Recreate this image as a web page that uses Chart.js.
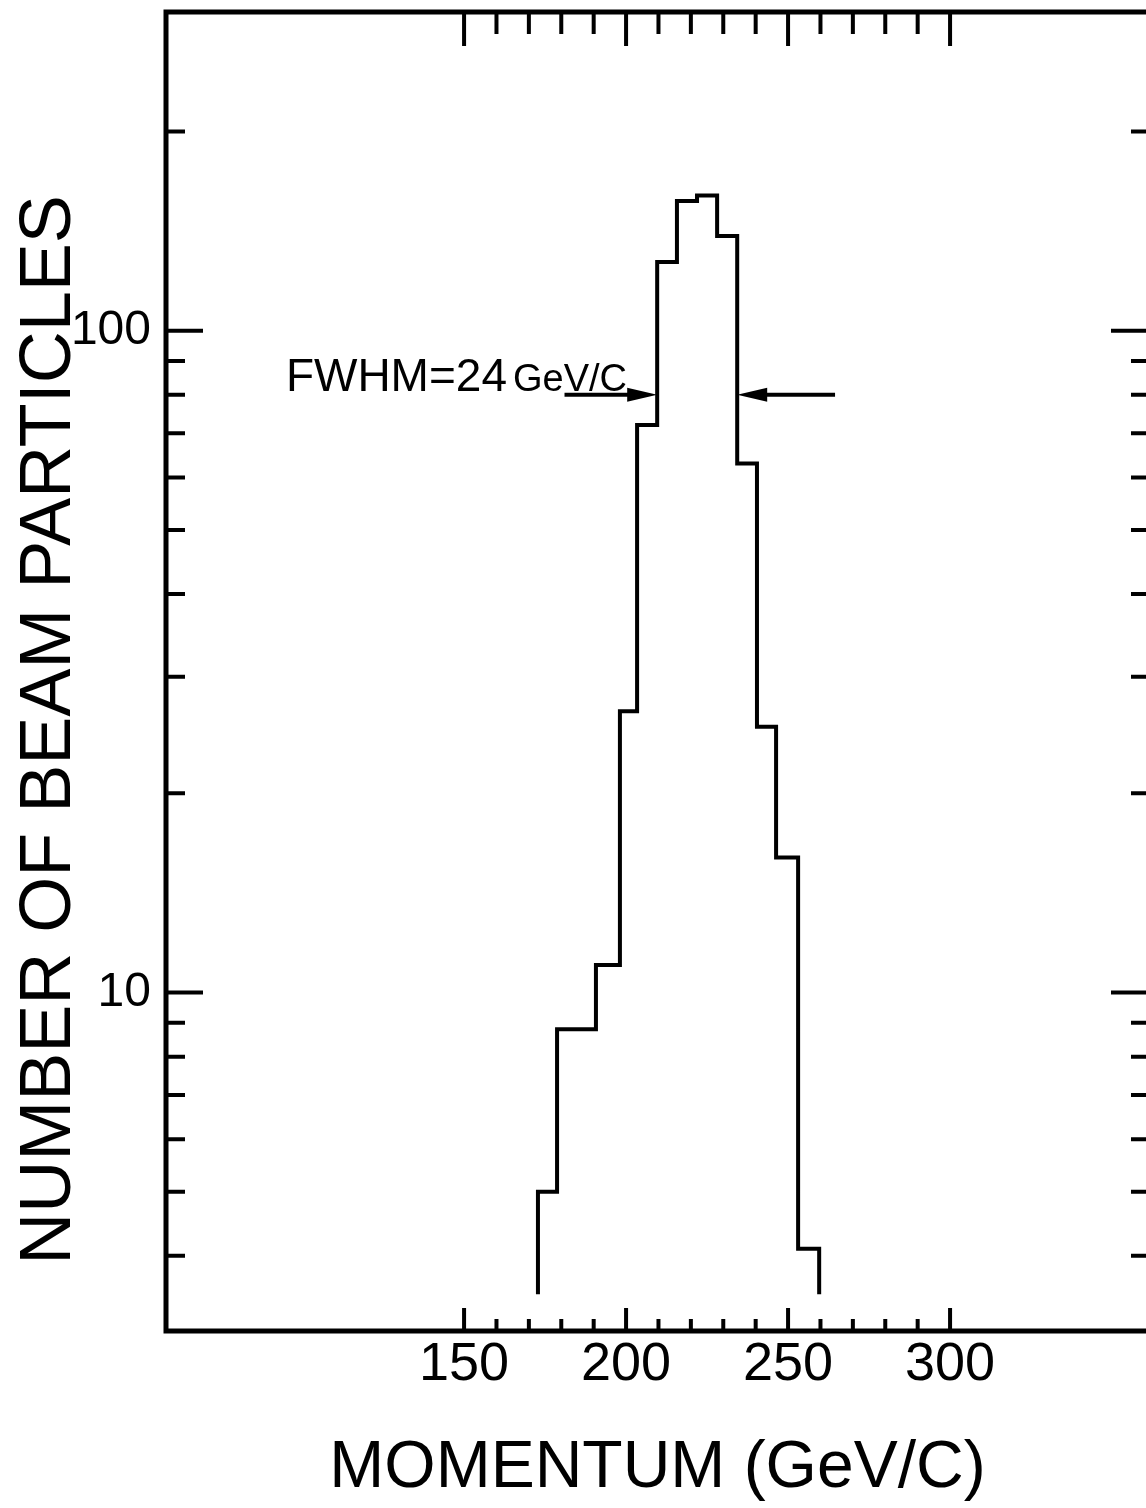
<!DOCTYPE html>
<html><head><meta charset="utf-8">
<script src="https://cdn.jsdelivr.net/npm/chart.js@4/dist/chart.umd.min.js"></script>
<style>
html,body{margin:0;padding:0;background:#fff;overflow:hidden;width:1146px;height:1508px}
#wrap{position:absolute;left:0;top:0;width:1160px;height:1508px}
</style></head><body><div id="wrap"><canvas id="c" width="1160" height="1508"></canvas></div>
<script>
// ---- data ----
const binEdges = [172.8, 178.7, 184.6, 190.7, 198.1, 203.4, 209.6, 215.7, 221.9, 228.1, 234.3, 240.4, 246.3, 253.1, 259.6];
const counts   = [5.0, 8.8, 8.8, 11.0, 26.6, 72, 127, 157, 160, 139, 63, 25.2, 16.0, 4.1];
const histBase = 3.5;
const xLabelTicks = [150, 200, 250, 300];
const xMinorTicks = [160, 170, 180, 190, 210, 220, 230, 240, 260, 270, 280, 290];
const yLabelTicks = [10, 100];
const yMinorTicks = [4, 5, 6, 7, 8, 9, 20, 30, 40, 50, 60, 70, 80, 90, 200];
const fwhmLevel = 80;
const fwhmLeftArrow = [181, 209.6];
const fwhmRightArrow = [264.5, 234.3];
const fwhmText = ['FWHM=24', 'GeV/C'];
const fwhmTextX = 95;

// histogram outline as stepped points
const histPoints = [{x: binEdges[0], y: histBase}];
counts.forEach((c, i) => histPoints.push({x: binEdges[i], y: c}));
histPoints.push({x: binEdges[binEdges.length - 1], y: histBase});

const FONT = '"Liberation Sans", Arial, Helvetica, sans-serif';

const decor = {
  id: 'decor',
  afterDraw(chart) {
    const {ctx, chartArea: a, scales: {x, y}} = chart;
    ctx.save();
    ctx.strokeStyle = '#000';
    ctx.fillStyle = '#000';
    ctx.lineCap = 'butt';
    // frame
    ctx.lineWidth = 5;
    ctx.strokeRect(a.left, a.top, a.right - a.left, a.bottom - a.top);
    // x ticks (bottom & top, inward)
    ctx.lineWidth = 4;
    const xt = xLabelTicks.map(v => [v, true]).concat(xMinorTicks.map(v => [v, false]));
    xt.forEach(([v, maj]) => {
      const px = x.getPixelForValue(v);
      ctx.beginPath();
      ctx.moveTo(px, a.bottom); ctx.lineTo(px, a.bottom - (maj ? 23 : 12));
      ctx.moveTo(px, a.top); ctx.lineTo(px, a.top + (maj ? 34 : 22));
      ctx.stroke();
    });
    // y ticks (left & right, inward)
    const yt = yLabelTicks.map(v => [v, true]).concat(yMinorTicks.map(v => [v, false]));
    yt.forEach(([v, maj]) => {
      const py = y.getPixelForValue(v);
      ctx.beginPath();
      ctx.moveTo(a.left, py); ctx.lineTo(a.left + (maj ? 37 : 19), py);
      ctx.moveTo(a.right, py); ctx.lineTo(a.right - (maj ? 38 : 18), py);
      ctx.stroke();
    });
    // FWHM arrows
    const ay = y.getPixelForValue(fwhmLevel);
    const arrow = (fromV, toV) => {
      const x0 = x.getPixelForValue(fromV), x1 = x.getPixelForValue(toV);
      const dir = Math.sign(x1 - x0);
      ctx.lineWidth = 4;
      ctx.beginPath(); ctx.moveTo(x0, ay); ctx.lineTo(x1 - dir * 20, ay); ctx.stroke();
      ctx.beginPath();
      ctx.moveTo(x1, ay);
      ctx.lineTo(x1 - dir * 30, ay - 7);
      ctx.lineTo(x1 - dir * 30, ay + 7);
      ctx.closePath(); ctx.fill();
    };
    arrow(fwhmLeftArrow[0], fwhmLeftArrow[1]);
    arrow(fwhmRightArrow[0], fwhmRightArrow[1]);
    // FWHM text
    const tx = x.getPixelForValue(fwhmTextX);
    ctx.textBaseline = 'alphabetic';
    ctx.textAlign = 'left';
    ctx.font = '46px ' + FONT;
    ctx.fillText(fwhmText[0], tx, ay - 4);
    const w0 = ctx.measureText(fwhmText[0]).width;
    ctx.font = '38px ' + FONT;
    ctx.fillText(fwhmText[1], tx + w0 + 6, ay - 4);
    // y title
    const yt2 = chart.options.scales.y.title;
    ctx.translate(50, 730);
    ctx.rotate(-Math.PI / 2);
    ctx.font = '72px ' + FONT;
    ctx.textAlign = 'center';
    ctx.textBaseline = 'middle';
    ctx.fillText(yt2.text, 0, 0);
    ctx.restore();
  }
};

new Chart(document.getElementById('c'), {
  type: 'line',
  data: {
    datasets: [{
      data: histPoints,
      stepped: 'before',
      borderColor: '#000',
      borderWidth: 4,
      borderJoinStyle: 'miter',
      pointRadius: 0,
      fill: false
    }]
  },
  options: {
    responsive: false,
    animation: false,
    devicePixelRatio: 1,
    layout: {padding: {top: 12, right: 11, left: 0, bottom: 0}},
    plugins: {legend: {display: false}, tooltip: {enabled: false}},
    scales: {
      x: {
        type: 'linear', position: 'bottom', min: 58, max: 361.4,
        grid: {display: false, drawTicks: false},
        border: {display: false},
        afterBuildTicks: s => { s.ticks = xLabelTicks.map(v => ({value: v})); },
        afterFit: s => { s.height = 177; s.paddingLeft = 0; s.paddingRight = 0; },
        ticks: {color: '#000', padding: 2, maxRotation: 0, autoSkip: false,
                font: {family: FONT, size: 54}, callback: v => String(v)},
        title: {display: true, text: 'MOMENTUM (GeV/C)', color: '#000',
                font: {family: FONT, size: 66}, padding: {top: 0, bottom: 0}}
      },
      y: {
        type: 'logarithmic', position: 'left', min: 3.08, max: 303,
        grid: {display: false, drawTicks: false},
        border: {display: false},
        afterBuildTicks: s => { s.ticks = yLabelTicks.map(v => ({value: v})); },
        afterFit: s => { s.width = 166; s.paddingTop = 0; s.paddingBottom = 0; },
        ticks: {color: '#000', padding: 15, autoSkip: false,
                font: {family: FONT, size: 48}, callback: v => String(v)},
        title: {display: false, text: 'NUMBER OF BEAM PARTICLES'}
      }
    }
  },
  plugins: [decor]
});
</script></body></html>
